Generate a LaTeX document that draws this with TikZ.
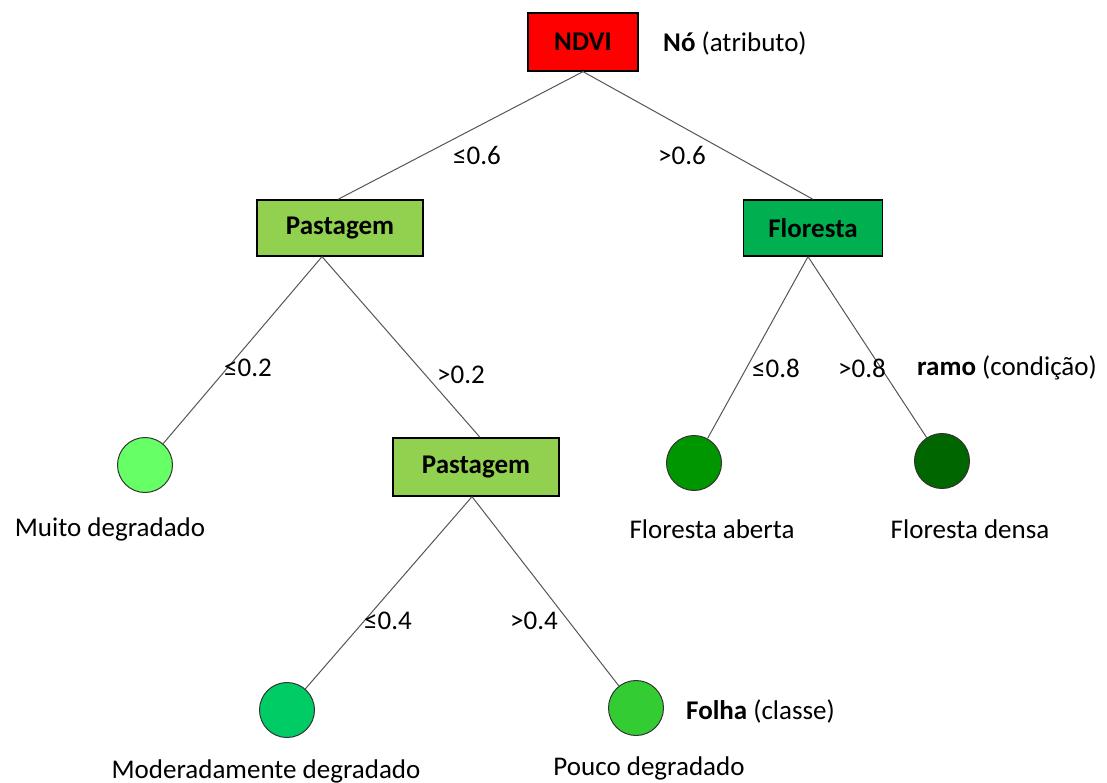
\documentclass[tikz,border=0pt]{standalone}
\usepackage{fontspec}
\setmainfont{Carlito}
\usepackage{xcolor}
\definecolor{ndvired}{HTML}{FF0000}
\definecolor{pastgreen}{HTML}{92D050}
\definecolor{florgreen}{HTML}{00B050}
\definecolor{muitogreen}{HTML}{66FF66}
\definecolor{abertagreen}{HTML}{009600}
\definecolor{densagreen}{HTML}{006600}
\definecolor{modgreen}{HTML}{00CC66}
\definecolor{poucogreen}{HTML}{33CC33}
\definecolor{branchgray}{HTML}{555555}

\tikzset{
  bigtext/.style={font=\fontsize{27}{32}\selectfont},
  attrbox/.style={rectangle, draw=black, line width=1.3pt, inner sep=0pt, font=\fontsize{27}{32}\selectfont\bfseries},
  leaf/.style={circle, draw=black!80, line width=1pt, minimum size=55pt, inner sep=0pt},
  branch/.style={draw=branchgray, line width=1pt},
  cond/.style={bigtext, inner sep=0pt},
  caption/.style={bigtext, inner sep=0pt}
}

\begin{document}
\begin{tikzpicture}[x=1pt, y=-1pt]
			\useasboundingbox (0,0) rectangle (1107,783);
			% atributos
			\node [attrbox, fill=ndvired, minimum width=110pt, minimum height=58pt] (ndvi) at (583,42) {NDVI};
			\node [attrbox, fill=pastgreen, minimum width=166pt, minimum height=56pt] (past1) at (340,228) {Pastagem};
			\node [attrbox, fill=florgreen, minimum width=139pt, minimum height=56pt] (flor) at (813,228) {Floresta};
			\node [attrbox, fill=pastgreen, minimum width=166pt, minimum height=58pt] (past2) at (476,467) {Pastagem};
			% folhas
			\node [leaf, fill=muitogreen] (muito) at (145,465) {};
			\node [leaf, fill=abertagreen] (aberta) at (694,463) {};
			\node [leaf, fill=densagreen] (densa) at (942,461) {};
			\node [leaf, fill=modgreen] (moder) at (287,710) {};
			\node [leaf, fill=poucogreen] (pouco) at (636,708) {};
			% ramos
			\draw [branch] (ndvi.south) -- ([xshift=-2pt]past1.north);
			\draw [branch] (ndvi.south) -- (flor.north);
			\draw [branch] ([xshift=-18pt]past1.south) -- (muito);
			\draw [branch] ([xshift=-18pt]past1.south) -- ([xshift=4pt]past2.north);
			\draw [branch] ([xshift=-5pt]flor.south) -- (aberta);
			\draw [branch] ([xshift=-5pt]flor.south) -- (densa);
			\draw [branch] ([xshift=-4pt]past2.south) -- (moder);
			\draw [branch] ([xshift=-4pt]past2.south) -- (pouco);
			% condicoes
			\node [cond] (c06a) at (477,155) {≤0.6};
			\node [cond] (c06b) at (682,155) {>0.6};
			\node [cond] (c02a) at (248,368) {≤0.2};
			\node [cond] (c02b) at (461,375) {>0.2};
			\node [cond] (c08a) at (776,368) {≤0.8};
			\node [cond] (c08b) at (862,368) {>0.8};
			\node [cond] (c04a) at (388,621) {≤0.4};
			\node [cond] (c04b) at (534,621) {>0.4};
			% legendas
			\node [caption, anchor=west] (leg-no) at (663,44) {\textbf{Nó} (atributo)};
			\node [caption, anchor=west] (leg-ramo) at (917,368) {\textbf{ramo} (condição)};
			\node [caption, anchor=west] (leg-folha) at (686,711) {\textbf{Folha} (classe)};
			% classes
			\node [caption] (t-muito) at (110,529) {Muito degradado};
			\node [caption] (t-aberta) at (712,529) {Floresta aberta};
			\node [caption] (t-densa) at (970,529) {Floresta densa};
			\node [caption] (t-moder) at (266,771) {Moderadamente degradado};
			\node [caption] (t-pouco) at (649,768) {Pouco degradado};
		\end{tikzpicture}
\end{document}
